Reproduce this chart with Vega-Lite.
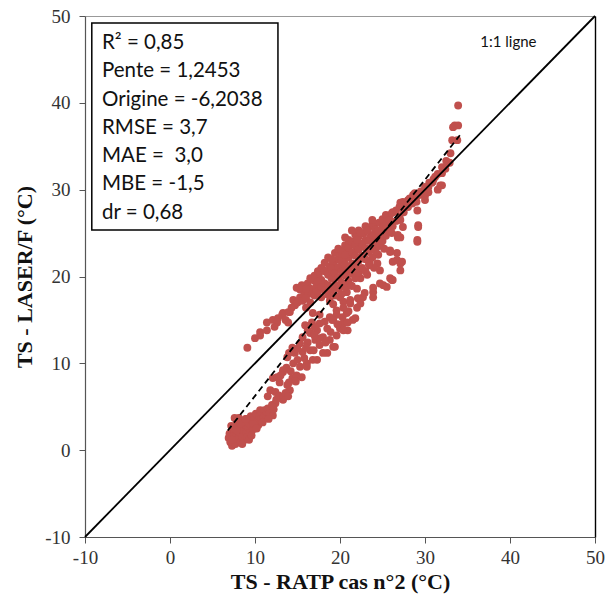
{
  "$schema": "https://vega.github.io/schema/vega-lite/v6.json",
  "width": 510,
  "height": 521,
  "autosize": {"type": "none"},
  "padding": {"left": 85, "top": 16, "right": 12, "bottom": 66},
  "background": "white",
  "config": {"view": {"stroke": null}, "font": "Liberation Serif"},
  "data": {"values": [{}]},
  "datasets": {
    "pts": [
      {"x":6.9,"y":1.4},{"x":7.0,"y":1.9},{"x":7.1,"y":0.9},{"x":7.3,"y":0.5},{"x":7.4,"y":1.6},{"x":7.5,"y":2.4},{"x":7.6,"y":1.1},{"x":7.6,"y":3.7},{"x":7.7,"y":0.7},{"x":7.8,"y":1.8},{"x":7.9,"y":3.2},{"x":8.0,"y":2.6},{"x":8.0,"y":1.3},{"x":8.1,"y":3.7},{"x":8.2,"y":2.0},{"x":8.3,"y":0.9},{"x":8.4,"y":2.8},{"x":8.5,"y":1.6},{"x":8.6,"y":3.4},{"x":8.7,"y":2.3},{"x":8.8,"y":1.2},{"x":8.9,"y":2.9},{"x":9.0,"y":2.0},{"x":9.0,"y":3.6},{"x":9.1,"y":1.5},{"x":9.2,"y":2.6},{"x":9.3,"y":3.2},{"x":9.4,"y":2.0},{"x":9.5,"y":3.9},{"x":9.6,"y":2.8},{"x":9.7,"y":3.4},{"x":9.8,"y":2.4},{"x":9.9,"y":3.8},{"x":10.0,"y":3.0},{"x":10.1,"y":4.2},{"x":10.3,"y":3.4},{"x":10.4,"y":2.9},{"x":10.5,"y":3.9},{"x":10.6,"y":4.6},{"x":10.7,"y":3.5},{"x":10.8,"y":4.3},{"x":11.0,"y":3.8},{"x":11.1,"y":4.6},{"x":11.3,"y":4.1},{"x":11.4,"y":4.4},{"x":11.5,"y":4.8},{"x":11.7,"y":4.3},{"x":12.0,"y":5.2},{"x":12.1,"y":4.0},{"x":12.2,"y":4.7},{"x":12.4,"y":5.4},{"x":12.1,"y":5.0},
      {"x":7.2,"y":2.8},{"x":7.8,"y":2.3},{"x":8.3,"y":3.1},{"x":8.9,"y":3.6},{"x":9.3,"y":1.2},{"x":9.8,"y":3.0},{"x":10.2,"y":2.5},{"x":10.9,"y":3.2},{"x":11.6,"y":3.6},{"x":8.5,"y":0.7},{"x":7.3,"y":1.2},{"x":9.6,"y":1.7},
      {"x":11.8,"y":6.9},{"x":13.3,"y":6.0},{"x":12.4,"y":6.7},{"x":13.8,"y":7.5},{"x":14.4,"y":8.3},{"x":12.9,"y":7.8},{"x":12.1,"y":8.3},{"x":13.3,"y":9.0},{"x":14.9,"y":8.6},{"x":15.5,"y":8.4},{"x":15.3,"y":9.6},{"x":14.5,"y":10.0},{"x":16.1,"y":10.0},{"x":13.8,"y":10.7},{"x":14.7,"y":11.2},{"x":15.6,"y":11.3},{"x":16.5,"y":11.5},{"x":17.3,"y":10.4},{"x":14.4,"y":11.8},{"x":15.3,"y":12.3},{"x":16.2,"y":12.4},{"x":17.1,"y":12.7},{"x":17.6,"y":12.1},{"x":18.5,"y":11.2},{"x":19.4,"y":11.9},{"x":16.5,"y":13.5},{"x":17.3,"y":13.8},{"x":18.0,"y":13.0},{"x":18.8,"y":12.7},{"x":15.9,"y":14.4},{"x":16.7,"y":14.7},{"x":17.6,"y":14.6},{"x":18.5,"y":14.0},{"x":19.2,"y":15.0},{"x":20.0,"y":14.0},{"x":16.8,"y":15.8},{"x":17.6,"y":15.6},{"x":18.8,"y":15.3},{"x":20.4,"y":14.6},{"x":20.9,"y":13.8},{"x":14.1,"y":6.9},{"x":13.3,"y":5.8},{"x":12.6,"y":8.4},{"x":13.3,"y":9.2},{"x":16.8,"y":10.4},{"x":18.0,"y":11.2},{"x":17.6,"y":12.9},{"x":16.1,"y":9.6},{"x":20.4,"y":13.8},{"x":21.5,"y":15.0},
      {"x":12.8,"y":6.3},{"x":13.6,"y":6.6},{"x":14.0,"y":7.8},{"x":14.8,"y":7.9},{"x":13.0,"y":8.6},{"x":13.7,"y":9.5},{"x":14.2,"y":9.1},{"x":15.0,"y":10.4},{"x":15.8,"y":10.6},{"x":14.0,"y":11.2},{"x":15.0,"y":11.7},{"x":16.0,"y":11.8},{"x":16.9,"y":11.5},{"x":17.0,"y":13.2},{"x":15.6,"y":13.0},{"x":16.2,"y":13.8},{"x":18.3,"y":12.4},{"x":18.9,"y":13.6},{"x":19.6,"y":13.2},{"x":18.2,"y":14.8},{"x":17.0,"y":14.2},{"x":19.7,"y":14.5},{"x":20.3,"y":15.3},{"x":21.0,"y":16.0},{"x":12.5,"y":5.8},{"x":13.9,"y":6.2},{"x":11.5,"y":6.2},
      {"x":19.6,"y":16.1},{"x":20.8,"y":15.8},{"x":22.0,"y":16.4},{"x":20.4,"y":17.1},{"x":20.0,"y":17.6},{"x":21.2,"y":17.3},{"x":22.7,"y":17.6},{"x":23.9,"y":18.2},{"x":25.1,"y":19.0},{"x":26.1,"y":19.6},{"x":25.9,"y":19.8},{"x":24.7,"y":19.2},{"x":23.9,"y":18.7},{"x":22.9,"y":18.1},{"x":22.1,"y":17.5},{"x":21.2,"y":16.9},{"x":20.4,"y":16.4},{"x":19.6,"y":15.6},{"x":19.1,"y":15.0},{"x":21.8,"y":15.2},{"x":20.9,"y":14.7},{"x":19.2,"y":11.9},{"x":26.2,"y":19.6},{"x":25.5,"y":18.8},{"x":23.9,"y":17.6},{"x":22.4,"y":16.9},{"x":27.1,"y":20.7},{"x":27.1,"y":21.5},{"x":26.7,"y":21.9},{"x":25.9,"y":22.8},{"x":24.4,"y":21.5},{"x":23.5,"y":21.3},{"x":24.7,"y":20.7},{"x":23.5,"y":21.7},{"x":26.2,"y":21.7},{"x":27.3,"y":21.7},{"x":26.7,"y":22.7},{"x":26.8,"y":24.5},{"x":29.1,"y":24.0},{"x":25.9,"y":23.0},{"x":23.9,"y":23.4},{"x":27.1,"y":24.5},{"x":29.2,"y":25.9},{"x":27.4,"y":25.7},{"x":26.8,"y":24.8},{"x":29.1,"y":24.2},{"x":26.1,"y":25.0},{"x":25.3,"y":25.7},
      {"x":9.1,"y":11.8},{"x":10.0,"y":12.9},{"x":10.6,"y":13.6},{"x":11.4,"y":14.7},{"x":12.1,"y":15.0},{"x":12.7,"y":15.2},{"x":13.9,"y":14.7},{"x":13.3,"y":15.8},{"x":14.1,"y":15.9},{"x":10.6,"y":13.2},{"x":11.4,"y":13.8},{"x":12.6,"y":14.7},{"x":13.9,"y":15.9},{"x":13.2,"y":15.6},{"x":14.7,"y":16.7},{"x":14.5,"y":17.3},{"x":15.3,"y":17.6},{"x":14.9,"y":18.7},{"x":15.3,"y":18.5},{"x":15.8,"y":18.0},{"x":16.2,"y":19.2},{"x":16.5,"y":18.6},{"x":17.0,"y":19.5},{"x":17.2,"y":18.8},{"x":17.5,"y":20.2},{"x":17.8,"y":19.6},{"x":18.0,"y":20.8},{"x":18.2,"y":19.2},{"x":18.5,"y":20.5},{"x":18.8,"y":21.2},{"x":19.0,"y":20.0},{"x":19.2,"y":21.6},{"x":19.5,"y":20.8},{"x":19.8,"y":22.0},{"x":20.0,"y":21.0},{"x":20.2,"y":22.6},{"x":20.5,"y":21.8},{"x":20.8,"y":23.0},{"x":21.0,"y":22.2},{"x":21.2,"y":23.6},{"x":21.5,"y":22.6},{"x":21.8,"y":24.0},{"x":22.0,"y":23.2},{"x":22.2,"y":24.6},{"x":22.5,"y":23.8},{"x":22.8,"y":25.0},{"x":23.0,"y":24.2},{"x":23.3,"y":25.4},{"x":23.6,"y":24.6},{"x":24.0,"y":25.8},{"x":24.3,"y":25.0},{"x":24.6,"y":26.2},{"x":25.0,"y":25.6},{"x":25.4,"y":26.6},{"x":25.8,"y":27.0},{"x":26.2,"y":27.4},
      {"x":12.3,"y":14.2},{"x":13.6,"y":15.0},{"x":14.3,"y":16.4},{"x":15.0,"y":17.0},{"x":15.6,"y":17.2},{"x":16.0,"y":16.4},{"x":15.5,"y":19.0},{"x":16.8,"y":18.0},{"x":16.3,"y":18.0},
      {"x":18.8,"y":17.2},{"x":19.2,"y":16.8},{"x":20.8,"y":18.2},{"x":21.2,"y":19.0},{"x":22.4,"y":19.8},{"x":23.2,"y":20.2},{"x":24.0,"y":21.0},{"x":22.0,"y":18.6},{"x":24.5,"y":22.5},{"x":25.2,"y":23.2},{"x":24.8,"y":23.9},
      {"x":16.0,"y":17.5},{"x":16.0,"y":18.6},{"x":16.5,"y":17.0},{"x":16.5,"y":19.8},{"x":17.0,"y":17.8},{"x":17.0,"y":20.1},{"x":17.4,"y":18.3},{"x":17.4,"y":19.4},{"x":17.4,"y":20.6},{"x":17.8,"y":17.6},{"x":17.8,"y":18.8},{"x":17.8,"y":21.0},{"x":18.2,"y":18.4},{"x":18.2,"y":20.6},{"x":18.2,"y":21.6},{"x":18.6,"y":17.9},{"x":18.6,"y":19.0},{"x":18.6,"y":20.2},{"x":18.6,"y":22.2},{"x":19.0,"y":18.5},{"x":19.0,"y":19.8},{"x":19.0,"y":20.9},{"x":19.0,"y":22.0},{"x":19.4,"y":17.8},{"x":19.4,"y":19.1},{"x":19.4,"y":20.4},{"x":19.4,"y":22.7},{"x":19.8,"y":18.6},{"x":19.8,"y":19.9},{"x":19.8,"y":21.1},{"x":19.8,"y":23.2},{"x":20.2,"y":18.0},{"x":20.2,"y":19.3},{"x":20.2,"y":20.6},{"x":20.2,"y":21.8},{"x":20.2,"y":23.0},{"x":20.6,"y":18.8},{"x":20.6,"y":20.1},{"x":20.6,"y":21.3},{"x":20.6,"y":22.5},{"x":20.6,"y":23.6},{"x":21.0,"y":19.5},{"x":21.0,"y":20.8},{"x":21.0,"y":23.3},{"x":21.0,"y":24.2},{"x":21.4,"y":18.9},{"x":21.4,"y":20.3},{"x":21.4,"y":21.5},{"x":21.4,"y":22.8},{"x":21.4,"y":24.0},{"x":21.8,"y":19.8},{"x":21.8,"y":21.1},{"x":21.8,"y":22.4},{"x":21.8,"y":23.6},{"x":21.8,"y":24.8},{"x":22.2,"y":20.4},{"x":22.2,"y":21.8},{"x":22.2,"y":23.1},{"x":22.2,"y":25.3},{"x":22.6,"y":21.0},{"x":22.6,"y":22.4},{"x":22.6,"y":23.7},{"x":22.6,"y":25.0},{"x":23.0,"y":20.6},{"x":23.0,"y":22.0},{"x":23.0,"y":23.3},{"x":23.0,"y":25.8},{"x":23.4,"y":21.4},{"x":23.4,"y":22.8},{"x":23.4,"y":24.1},{"x":23.8,"y":22.2},{"x":23.8,"y":23.5},{"x":23.8,"y":24.8},{"x":23.8,"y":26.0},{"x":24.2,"y":22.9},{"x":24.2,"y":24.2},{"x":24.2,"y":25.4},{"x":24.6,"y":23.5},{"x":24.6,"y":24.8},{"x":25.0,"y":24.1},{"x":25.0,"y":25.5},{"x":25.0,"y":26.6},{"x":25.4,"y":24.7},{"x":25.4,"y":26.0},{"x":25.4,"y":27.1},{"x":25.8,"y":25.3},{"x":25.8,"y":26.5},{"x":26.2,"y":25.8},{"x":26.6,"y":26.4},{"x":26.6,"y":27.6},{"x":27.0,"y":26.9},{"x":27.0,"y":28.0},{"x":27.5,"y":27.4},{"x":28.0,"y":28.0},{"x":28.0,"y":28.8},{"x":28.5,"y":28.4},{"x":29.0,"y":29.2},{"x":29.0,"y":28.6},{"x":29.5,"y":29.8},{"x":30.0,"y":30.3},{"x":30.0,"y":29.3},{"x":30.5,"y":30.8},{"x":31.0,"y":31.2},{"x":31.5,"y":31.8},{"x":32.0,"y":32.6},{"x":32.5,"y":33.3},{"x":33.0,"y":34.2},
      {"x":33.9,"y":39.7},{"x":33.5,"y":37.4},{"x":33.9,"y":37.4},{"x":33.8,"y":35.7},{"x":32.9,"y":33.1},{"x":32.0,"y":31.9},{"x":31.8,"y":30.5},{"x":30.8,"y":30.8},{"x":30.4,"y":29.7},{"x":29.4,"y":29.4},{"x":28.6,"y":29.4},{"x":28.2,"y":28.6},{"x":27.4,"y":28.6},{"x":27.1,"y":28.5},{"x":33.3,"y":37.2},{"x":33.2,"y":35.7},{"x":32.7,"y":33.1},{"x":32.0,"y":30.5},{"x":30.9,"y":30.9},{"x":30.4,"y":30.3},{"x":29.8,"y":29.6},{"x":28.8,"y":29.6},{"x":28.2,"y":29.0},{"x":30.0,"y":28.8},{"x":29.1,"y":27.6},{"x":27.9,"y":28.5},{"x":27.1,"y":28.0},{"x":29.2,"y":25.7},{"x":27.1,"y":26.5},{"x":26.1,"y":27.3},{"x":24.5,"y":25.3},{"x":23.8,"y":26.5},{"x":23.2,"y":25.3},{"x":22.4,"y":25.0},{"x":21.4,"y":25.3},{"x":20.6,"y":24.5},{"x":22.0,"y":24.2},{"x":31.2,"y":31.5},{"x":32.4,"y":32.4},{"x":31.5,"y":30.0}
    ]
  },
  "layer": [
    {
      "data": {"name": "pts"},
      "mark": {"type": "circle", "size": 62, "opacity": 1, "color": "#C0504D"},
      "encoding": {
        "x": {"field": "x", "type": "quantitative",
              "scale": {"domain": [-10, 50], "nice": false, "zero": false},
              "axis": {"title": "TS - RATP cas n°2 (°C)", "values": [-10, 0, 10, 20, 30, 40, 50], "grid": false, "labelExpr": "'' + datum.value",
                       "tickSize": 6, "tickColor": "#555", "domainColor": "#555", "domainWidth": 1.2,
                       "labelFont": "Liberation Serif", "labelFontSize": 19, "labelColor": "#333", "labelPadding": 5, "labelFlush": false,
                       "titleFont": "Liberation Serif", "titleFontSize": 22, "titleFontWeight": "bold", "titleColor": "#111", "titlePadding": 4}},
        "y": {"field": "y", "type": "quantitative",
              "scale": {"domain": [-10, 50], "nice": false, "zero": false},
              "axis": {"title": "TS - LASER/F (°C)", "values": [-10, 0, 10, 20, 30, 40, 50], "grid": false, "labelExpr": "'' + datum.value",
                       "tickSize": 6, "tickColor": "#555", "domainColor": "#555", "domainWidth": 1.2,
                       "labelFont": "Liberation Serif", "labelFontSize": 19, "labelColor": "#333", "labelPadding": 9, "labelFlush": false,
                       "titleFont": "Liberation Serif", "titleFontSize": 22, "titleFontWeight": "bold", "titleColor": "#111", "titlePadding": 8}}
      }
    },
    {
      "mark": {"type": "rule", "color": "black", "strokeWidth": 1.8},
      "encoding": {
        "x": {"datum": -10, "type": "quantitative", "scale": {"domain": [-10, 50], "nice": false, "zero": false},
              "axis": {"orient": "top", "labels": false, "ticks": false, "title": null, "grid": false, "domainColor": "#999", "domainWidth": 1.2}},
        "y": {"datum": -10, "type": "quantitative", "scale": {"domain": [-10, 50], "nice": false, "zero": false},
              "axis": {"orient": "right", "labels": false, "ticks": false, "title": null, "grid": false, "domainColor": "#000", "domainWidth": 1.4}},
        "x2": {"datum": 50},
        "y2": {"datum": 50}
      }
    },
    {
      "mark": {"type": "rule", "color": "black", "strokeWidth": 1.8, "strokeDash": [6, 4]},
      "encoding": {
        "x": {"datum": 6.8, "type": "quantitative", "scale": {"domain": [-10, 50], "nice": false, "zero": false}, "axis": null},
        "y": {"datum": 2.26, "type": "quantitative", "scale": {"domain": [-10, 50], "nice": false, "zero": false}, "axis": null},
        "x2": {"datum": 34.1},
        "y2": {"datum": 36.26}
      }
    },
    {
      "mark": {"type": "rect", "fill": "white", "stroke": "black", "strokeWidth": 1.5},
      "encoding": {
        "x": {"datum": -9.2, "type": "quantitative", "scale": {"domain": [-10, 50], "nice": false, "zero": false}, "axis": null},
        "y": {"datum": 25.35, "type": "quantitative", "scale": {"domain": [-10, 50], "nice": false, "zero": false}, "axis": null},
        "x2": {"datum": 12.7},
        "y2": {"datum": 49.2}
      }
    },
    {
      "mark": {"type": "text", "font": "Lato", "fontSize": 20.5, "align": "left", "baseline": "middle", "lineHeight": 28.3, "color": "#111"},
      "encoding": {
        "x": {"datum": -8.0, "type": "quantitative", "scale": {"domain": [-10, 50], "nice": false, "zero": false}, "axis": null},
        "y": {"datum": 46.9, "type": "quantitative", "scale": {"domain": [-10, 50], "nice": false, "zero": false}, "axis": null},
        "text": {"value": ["R² = 0,85", "Pente = 1,2453", "Origine = -6,2038", "RMSE = 3,7", "MAE =\u00a0 3,0", "MBE = -1,5", "dr = 0,68"]}
      }
    },
    {
      "mark": {"type": "text", "font": "Lato", "fontSize": 15, "align": "left", "baseline": "middle", "color": "#111"},
      "encoding": {
        "x": {"datum": 36.5, "type": "quantitative", "scale": {"domain": [-10, 50], "nice": false, "zero": false}, "axis": null},
        "y": {"datum": 47.0, "type": "quantitative", "scale": {"domain": [-10, 50], "nice": false, "zero": false}, "axis": null},
        "text": {"value": "1:1 ligne"}
      }
    }
  ],
  "resolve": {"axis": {"x": "independent", "y": "independent"}}
}
